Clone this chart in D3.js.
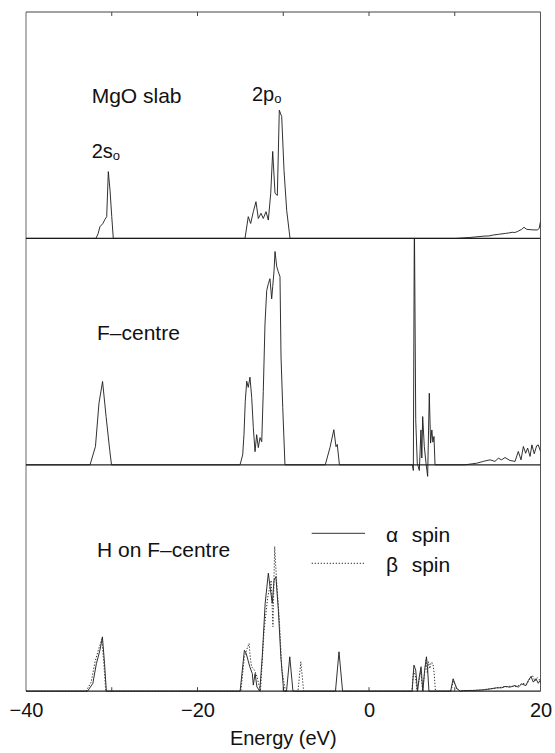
<!DOCTYPE html>
<html>
<head>
<meta charset="utf-8">
<script src="https://cdn.jsdelivr.net/npm/d3@7"></script>
<style>
  html, body { margin: 0; padding: 0; background: #fff; }
  svg { display: block; }
  text { font-family: "Liberation Sans", Arial, Helvetica, sans-serif; fill: #111; }
</style>
</head>
<body>
<svg id="chart" width="555" height="753"></svg>
<script>
// ---------------- DATA ----------------
const energyDomain = [-40, 20];
const tickValues = [-40, -20, 0, 20];
const tickLabels = ["\u221240", "\u221220", "0", "20"];
const minorTickValues = [-30, -20, -10, 0, 10];
const panelNames = ["MgO slab", "F\u2013centre", "H on F\u2013centre"];
const legendLabels = ["spin", "spin"];
const legendSymbols = ["\u03b1", "\u03b2"];

// [energy (eV), DOS (arbitrary units, % of panel height)]
const mgoSlab = [
  [-40,0],[-31.84,0],[-31.6,2],[-31.37,5.2],[-31.05,6.5],[-30.79,8.4],[-30.59,9.6],[-30.40,29.5],[-30.2,21.2],[-30.0,9.6],[-29.82,0],
  [-14.46,0],[-14.08,9.6],[-13.80,6.6],[-13.49,11.8],[-13.18,16.2],[-12.91,8.8],[-12.59,11.1],[-12.33,8.8],[-12.01,11.8],[-11.74,8.1],
  [-11.46,19.9],[-11.23,38.4],[-10.96,19.9],[-10.69,19],[-10.46,56.6],[-10.18,53.8],[-9.91,30],[-9.60,12.4],[-9.21,0],
  [10.1,0],[11.75,0.4],[13.4,1.0],[14.0,1.1],[14.5,1.5],[15.1,1.8],[15.9,2.2],[16.3,2.4],[16.7,2.7],[17.0,2.6],[17.3,3.0],
  [17.8,4.0],[18.07,4.9],[18.4,4.0],[19.0,3.8],[19.65,3.7],[19.85,4.5],[20,7.4]
];

const fCentre = [
  [-40,0],[-32.53,0],[-31.9,8.1],[-31.49,27.2],[-31.07,36.8],[-30.66,21.3],[-30.24,6.6],[-30.03,0],
  [-15.04,0],[-14.73,4.4],[-14.58,13.3],[-14.43,28],[-14.26,36.9],[-14.08,34.2],[-13.88,38.7],[-13.68,29.8],[-13.49,16.4],
  [-13.29,5.8],[-13.10,13.3],[-12.91,7.6],[-12.71,12],[-12.51,10.2],[-12.33,32.4],[-12.13,62.2],[-11.93,76.9],[-11.74,80],
  [-11.55,82.2],[-11.35,73.3],[-11.23,78.7],[-11.08,85.3],[-10.96,94.2],[-10.76,87.6],[-10.58,85.3],[-10.38,83.1],[-10.26,47.6],
  [-10.06,25.3],[-9.80,0],
  [-5.1,0],[-4.55,7.6],[-4.1,15.5],[-3.85,8],[-3.7,9],[-3.45,0],
  [5.05,0],[5.17,-2.5],[5.29,110],[5.45,19.9],[5.63,0.7],[5.87,-2.5],[6.06,15.4],[6.16,3],[6.26,21.3],[6.45,8.1],[6.65,0.7],
  [6.84,-5.1],[7.03,31.6],[7.18,9.6],[7.33,15.4],[7.45,10],[7.58,12.5],[7.70,0],
  [11.2,0],[12.56,0.7],[13.33,1.5],[14.11,2.2],[14.69,1.5],[15.08,2.9],[15.47,2.2],[15.86,3.2],[16.44,1.9],[17.03,1.5],
  [17.41,5.9],[17.73,2.2],[18.0,8.1],[18.27,5.1],[18.5,7.4],[18.78,3.7],[19.0,8.8],[19.27,4.9],[19.55,8.4],[19.74,8.8],[20,6]
];

const hAlpha = [
  [-40,0],[-32.83,0],[-32.21,3.4],[-31.79,12.2],[-31.38,18.1],[-31.09,24],[-30.84,12.2],[-30.63,0],
  [-15.03,0],[-14.53,18.1],[-14.32,16.7],[-14.11,13.7],[-13.9,10.8],[-13.61,7.8],[-13.49,2.7],[-13.28,7.8],[-13.07,1.9],
  [-12.74,0],[-12.45,15.2],[-12.11,38.8],[-11.74,52.1],[-11.49,44.7],[-11.28,38.8],[-11.07,49.1],[-10.86,50.6],[-10.57,35.8],
  [-10.28,15.2],[-9.95,0],
  [-9.62,0],[-9.24,15.2],[-8.87,0],
  [-3.91,0],[-3.5,17.4],[-3.08,0],
  [5.03,0],[5.24,11.5],[5.45,9.3],[5.66,0],[5.86,6.3],[6.07,10.8],[6.28,0],[6.49,9.3],[6.70,15.2],[6.82,10.8],[6.99,0],
  [9.52,0],[9.81,5.5],[10.23,1.2],[10.65,0],
  [11.0,0.3],[12.17,0.3],[13.33,0.6],[14.11,1],[14.89,1.5],[15.47,1.5],[15.86,2.1],[16.44,1.8],[17.03,2.5],[17.41,1.8],
  [17.8,3.2],[18.3,2.5],[18.58,4.7],[18.89,6.5],[19.16,4],[19.47,5.5],[19.74,3.5],[19.94,4.7],[20,4]
];

const hBeta = [
  [-40,0],[-33.0,0],[-32.4,4],[-31.95,13],[-31.5,19],[-31.15,23],[-30.9,11],[-30.7,0],
  [-14.94,0],[-14.53,15.2],[-14.2,19],[-13.98,21.1],[-13.85,15],[-13.69,10.8],[-13.36,9.3],[-13.07,6.5],[-12.66,0],
  [-12.24,26.5],[-11.82,41.3],[-11.41,49],[-11.2,28.5],[-11.0,63.9],[-10.78,49],[-10.45,31],[-10.16,9.3],[-9.74,0],
  [-8.28,0],[-7.95,13],[-7.62,0],
  [5.0,0],[5.2,9],[5.4,7],[5.6,0],[5.85,5],[6.05,9],[6.25,0],[6.45,7],[6.65,13.7],[6.8,8],[6.95,13],[7.1,10],[7.25,12.8],
  [7.45,12.3],[7.6,8],[7.75,0],
  [9.55,0],[9.85,4.5],[10.25,1],[10.7,0],
  [11.5,0.3],[13.0,0.5],[14.5,1.2],[15.5,1.8],[16.5,2.2],[17.2,2.0],[17.9,3.5],[18.4,3],[18.75,5.5],[19.05,7],[19.35,4.5],
  [19.65,6],[19.9,5],[20,5]
];

// ---------------- LAYOUT ----------------
const svg = d3.select("#chart");
const plotL = 26, plotR = 540.5, plotT = 12;
const panelH = 226.4;
const baselines = [plotT + panelH, plotT + 2 * panelH, plotT + 3 * panelH];

const x = d3.scaleLinear().domain(energyDomain).range([plotL, plotR]);
const yScales = baselines.map(b => d3.scaleLinear().domain([0, 100]).range([b, b - panelH]));

const defs = svg.append("defs");
baselines.forEach((b, i) => {
  defs.append("clipPath").attr("id", "clip" + i)
    .append("rect").attr("x", plotL).attr("y", b - panelH).attr("width", plotR - plotL).attr("height", panelH + 14);
});

const lineGen = y => d3.line().x(d => x(d[0])).y(d => y(d[1]));

const series = [
  { data: mgoSlab, panel: 0, dash: null },
  { data: fCentre, panel: 1, dash: null },
  { data: hAlpha, panel: 2, dash: null },
  { data: hBeta, panel: 2, dash: "1.3,1.7" }
];

// frame
const frame = svg.append("g").attr("stroke", "#444").attr("fill", "none");
frame.append("line").attr("x1", plotL).attr("x2", plotR).attr("y1", plotT).attr("y2", plotT).attr("stroke-width", 1.2);
frame.append("line").attr("x1", plotL).attr("x2", plotL).attr("y1", plotT).attr("y2", baselines[2]).attr("stroke", "#666").attr("stroke-width", 1);
frame.append("line").attr("x1", plotR).attr("x2", plotR).attr("y1", plotT).attr("y2", baselines[2]).attr("stroke", "#555").attr("stroke-width", 1);
baselines.forEach(b => {
  frame.append("line").attr("x1", plotL).attr("x2", plotR).attr("y1", b).attr("y2", b).attr("stroke", "#222").attr("stroke-width", 1.2);
});

// minor ticks on top border and bottom axis
svg.append("g").selectAll("line").data(minorTickValues).join("line")
  .attr("x1", d => x(d)).attr("x2", d => x(d)).attr("y1", plotT).attr("y2", plotT + 4)
  .attr("stroke", "#444").attr("stroke-width", 1);

// bottom axis
const axis = d3.axisBottom(x).tickValues(tickValues).tickSize(0).tickPadding(0)
  .tickFormat((d, i) => tickLabels[i]);
const ax = svg.append("g").attr("transform", `translate(0,${baselines[2]})`).call(axis);
ax.select(".domain").remove();
ax.selectAll("text").attr("font-size", 20).attr("dy", null).attr("y", 26)
  .style("font-family", '"Liberation Sans", Arial, sans-serif').attr("fill", "#111");
svg.append("g").selectAll("line").data(minorTickValues).join("line")
  .attr("x1", d => x(d)).attr("x2", d => x(d)).attr("y1", baselines[2]).attr("y2", baselines[2] - 4)
  .attr("stroke", "#444").attr("stroke-width", 1);

svg.append("text").attr("x", (plotL + plotR) / 2).attr("y", 745).attr("text-anchor", "middle")
  .attr("font-size", 20).text("Energy (eV)");

// curves
series.forEach(s => {
  svg.append("path")
    .datum(s.data)
    .attr("clip-path", `url(#clip${s.panel})`)
    .attr("d", lineGen(yScales[s.panel]))
    .attr("fill", "none")
    .attr("stroke", s.dash ? "#333" : "#1a1a1a")
    .attr("stroke-width", s.dash ? 1 : 0.9)
    .attr("stroke-dasharray", s.dash);
});

// panel labels
const labelPos = [[91.7, 103], [97, 340], [97, 557]];
panelNames.forEach((n, i) => {
  svg.append("text").attr("x", labelPos[i][0]).attr("y", labelPos[i][1]).attr("font-size", 21).text(n);
});

// peak labels
const t2s = svg.append("text").attr("x", 91.7).attr("y", 158).attr("font-size", 20);
t2s.append("tspan").text("2s");
t2s.append("tspan").attr("font-size", 13).attr("dy", 2).text("o");
const t2p = svg.append("text").attr("x", 252).attr("y", 101).attr("font-size", 20);
t2p.append("tspan").text("2p");
t2p.append("tspan").attr("font-size", 13).attr("dy", 2).text("o");

// legend
const legY = [533.3, 563.3];
const legDash = [null, "1.3,1.7"];
legY.forEach((ly, i) => {
  svg.append("line").attr("x1", 311.7).attr("x2", 365).attr("y1", ly).attr("y2", ly)
    .attr("stroke", "#333").attr("stroke-width", 1).attr("stroke-dasharray", legDash[i]);
  svg.append("text").attr("x", 386).attr("y", ly + 8.4).attr("font-size", 21).text(legendSymbols[i]);
  svg.append("text").attr("x", 411.7).attr("y", ly + 8.4).attr("font-size", 21).text(legendLabels[i]);
});
</script>
</body>
</html>
